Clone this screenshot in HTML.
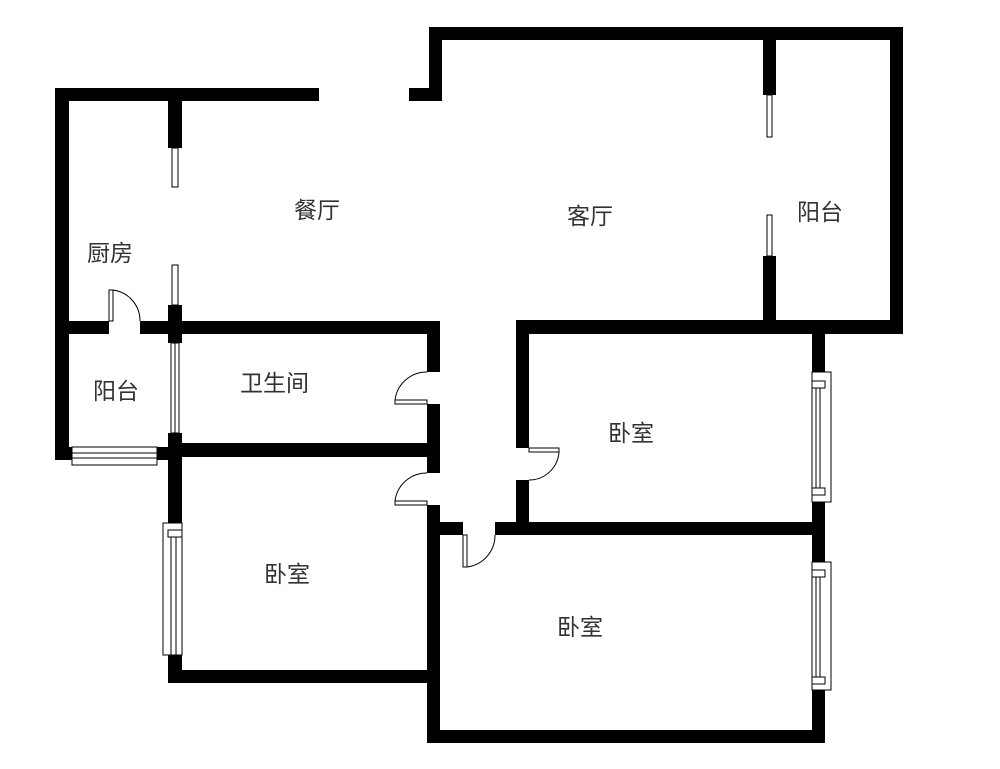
<!DOCTYPE html>
<html><head><meta charset="utf-8"><style>
html,body{margin:0;padding:0;background:#fff;}
svg{display:block}
text{font-family:"Liberation Sans","Noto Sans CJK SC",sans-serif;font-size:23px;fill:#333;}
</style></head><body>
<svg width="1000" height="769" viewBox="0 0 1000 769" xmlns="http://www.w3.org/2000/svg">
<g fill="#000">
<!-- top right block -->
<rect x="429" y="27" width="474" height="13"/>
<rect x="429" y="27" width="13" height="74"/>
<rect x="409" y="88" width="33" height="13"/>
<rect x="890" y="27" width="13" height="306"/>
<rect x="516" y="320" width="387" height="14"/>
<rect x="763" y="40" width="13" height="55"/>
<rect x="763" y="256" width="13" height="70"/>
<!-- left top -->
<rect x="55" y="88" width="264" height="13"/>
<rect x="55" y="88" width="14" height="372"/>
<rect x="168" y="101" width="14" height="47"/>
<rect x="168" y="305" width="14" height="38"/>
<!-- horizontal wall y321 -->
<rect x="68" y="321" width="41" height="13"/>
<rect x="140" y="321" width="300" height="13"/>
<!-- bath right wall -->
<rect x="427" y="321" width="13" height="51"/>
<rect x="427" y="404" width="13" height="69"/>
<rect x="427" y="505" width="13" height="238"/>
<!-- bath bottom -->
<rect x="168" y="443" width="272" height="14"/>
<rect x="55" y="447" width="17" height="13"/>
<rect x="157" y="447" width="13" height="13"/>
<rect x="168" y="433" width="14" height="97"/>
<rect x="168" y="655" width="14" height="28"/>
<rect x="168" y="670" width="272" height="13"/>
<!-- bedroom 3 -->
<rect x="427" y="730" width="398" height="13"/>
<rect x="427" y="522" width="36" height="13"/>
<rect x="495" y="522" width="330" height="13"/>
<!-- bedroom2 -->
<rect x="516" y="320" width="13" height="128"/>
<rect x="516" y="480" width="13" height="55"/>
<rect x="812" y="320" width="13" height="52"/>
<rect x="812" y="502" width="13" height="60"/>
<rect x="812" y="690" width="13" height="53"/>
</g>
<g fill="#fff" stroke="#000" stroke-width="1">
<!-- thin window posts -->
<rect x="767" y="95" width="5" height="42"/>
<rect x="767" y="215" width="5" height="41"/>
<rect x="172" y="148" width="6" height="39"/>
<rect x="172" y="265" width="6" height="40"/>
<rect x="171" y="343" width="8" height="90"/>
<line x1="175" y1="343" x2="175" y2="433"/>
<!-- balcony window -->
<rect x="72" y="447" width="85" height="18"/>
<line x1="72" y1="453" x2="157" y2="453"/><line x1="72" y1="458" x2="157" y2="458"/>
<!-- left bedroom window -->
<rect x="163" y="523" width="19" height="132"/>
<rect x="168" y="530" width="14" height="7"/>
<line x1="171" y1="537" x2="171" y2="655"/><line x1="176" y1="537" x2="176" y2="655"/>
<!-- right windows -->
<rect x="812" y="372" width="19" height="130"/>
<rect x="812" y="381" width="13" height="7"/><rect x="812" y="488" width="13" height="7"/>
<line x1="816" y1="388" x2="816" y2="488"/><line x1="820" y1="388" x2="820" y2="488"/>
<rect x="812" y="562" width="19" height="128"/>
<rect x="812" y="570" width="13" height="7"/><rect x="812" y="677" width="13" height="7"/>
<line x1="816" y1="577" x2="816" y2="677"/><line x1="820" y1="577" x2="820" y2="677"/>
<!-- door leaves -->
<rect x="109" y="290" width="4" height="31"/>
<rect x="395" y="400" width="32" height="4"/>
<rect x="395" y="501" width="32" height="4"/>
<rect x="463" y="535" width="4" height="32"/>
<rect x="529" y="448" width="30" height="4"/>
</g>
<g fill="none" stroke="#000" stroke-width="1">
<path d="M113 290 A31 31 0 0 1 140 321"/>
<path d="M395 400 A32 32 0 0 1 427 372"/>
<path d="M395 501 A32 32 0 0 1 427 473"/>
<path d="M467 567 A32 32 0 0 0 495 535"/>
<path d="M559 452 A30 30 0 0 1 529 480"/>
</g>
<text x="294" y="218">餐厅</text>
<text x="87" y="261">厨房</text>
<text x="567" y="224">客厅</text>
<text x="797" y="220">阳台</text>
<text x="93" y="399">阳台</text>
<text x="240" y="391">卫生间</text>
<text x="608" y="441">卧室</text>
<text x="264" y="582">卧室</text>
<text x="557" y="635">卧室</text>
</svg>
</body></html>
